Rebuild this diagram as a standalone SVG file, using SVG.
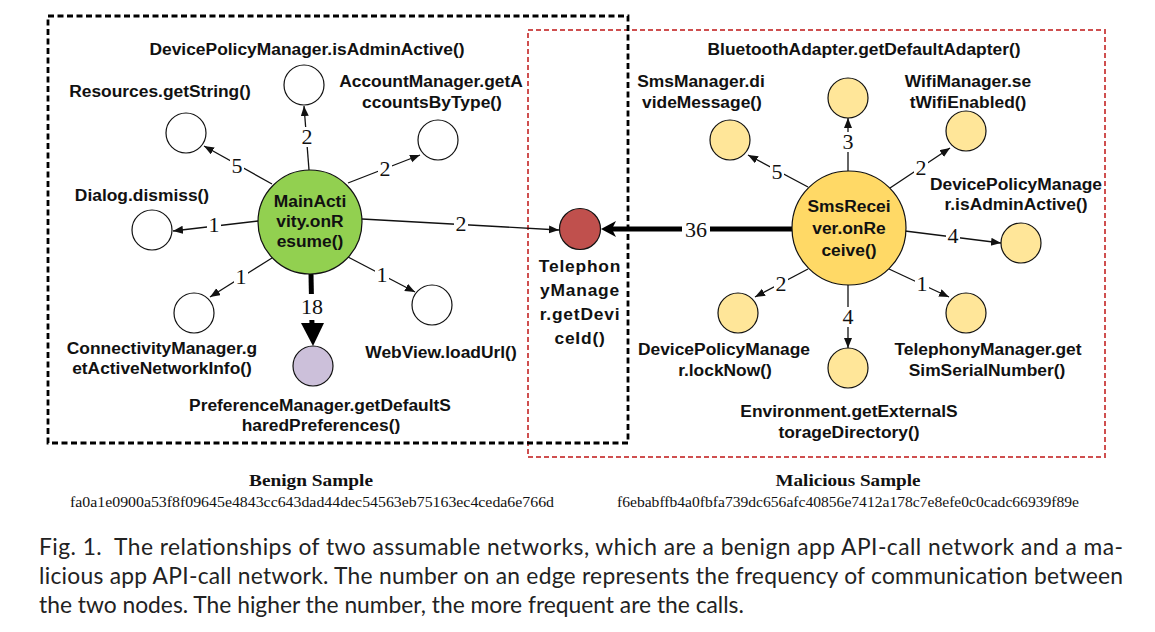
<svg xmlns="http://www.w3.org/2000/svg" width="1155" height="632" viewBox="0 0 1155 632">
<style>
.lbl{font-family:"Liberation Sans",Arial,sans-serif;font-weight:bold;font-size:17.4px;fill:#111;text-anchor:middle}
.num{font-family:"Liberation Serif","Times New Roman",serif;font-size:22px;fill:#111;text-anchor:middle}
.nb{fill:#fff}
.ea{stroke:#111;stroke-width:1.3;fill:none;marker-end:url(#ah)}
.thick{stroke:#000;stroke-width:5;fill:none}
.n{stroke:#111;stroke-width:1.2}
.w{fill:#fff}
.ly{fill:#ffe699}
.cap{font-family:"Lato","Noto Sans",sans-serif;font-size:22.8px;fill:#222}
.samp{font-family:"Liberation Serif","Times New Roman",serif;font-weight:bold;font-size:17px;fill:#111;text-anchor:middle}
.hash{font-family:"Liberation Serif","Times New Roman",serif;font-size:14px;fill:#111;text-anchor:middle}
</style>
<defs>
<marker id="ah" markerUnits="userSpaceOnUse" markerWidth="11" markerHeight="9" refX="10" refY="4" orient="auto">
<path d="M0,0 L10,4 L0,8 z" fill="#111"/>
</marker>
</defs>
<rect width="1155" height="632" fill="#fff"/>

<!-- sample boxes -->
<rect x="528" y="30" width="577" height="427" fill="none" stroke="#cf4f4f" stroke-width="2" stroke-dasharray="5,3"/>
<rect x="48" y="16" width="580" height="427" fill="none" stroke="#000" stroke-width="2.8" stroke-dasharray="6,3.5"/>

<g id="connectors">
<line class="ea" x1="309" y1="170" x2="304" y2="106"/>
<line class="ea" x1="272" y1="184" x2="204" y2="146"/>
<line class="ea" x1="348" y1="183" x2="420" y2="155"/>
<line class="ea" x1="258" y1="221" x2="173" y2="231"/>
<line class="ea" x1="362" y1="219" x2="559" y2="230"/>
<line class="ea" x1="272" y1="258" x2="210" y2="297"/>
<line class="ea" x1="348" y1="257" x2="415" y2="292"/>
<line class="thick" x1="311" y1="274" x2="312" y2="326"/>
<path d="M301,323 L324,323 L313,346 z" fill="#000"/>

<line class="ea" x1="848" y1="171" x2="848" y2="118"/>
<line class="ea" x1="808" y1="187" x2="748" y2="155"/>
<line class="ea" x1="890" y1="188" x2="950" y2="148"/>
<line class="ea" x1="905" y1="231" x2="1001" y2="243"/>
<line class="ea" x1="808" y1="269" x2="755" y2="297"/>
<line class="ea" x1="848" y1="285" x2="848" y2="348"/>
<line class="ea" x1="889" y1="269" x2="949" y2="297"/>
<line class="thick" x1="792" y1="229" x2="612" y2="229"/>
<path d="M601,229 L616,221 L612,229 L616,237 z" fill="#000"/>

<!-- edge labels -->
<rect class="nb" x="300" y="127" width="14" height="20"/><text class="num" x="307" y="144">2</text>
<rect class="nb" x="230" y="156" width="14" height="20"/><text class="num" x="237" y="173">5</text>
<rect class="nb" x="378" y="159" width="14" height="20"/><text class="num" x="385" y="176">2</text>
<rect class="nb" x="207" y="215" width="14" height="20"/><text class="num" x="214" y="232">1</text>
<rect class="nb" x="454" y="214" width="14" height="20"/><text class="num" x="461" y="231">2</text>
<rect class="nb" x="234" y="267" width="14" height="20"/><text class="num" x="241" y="284">1</text>
<rect class="nb" x="375" y="265" width="14" height="20"/><text class="num" x="382" y="282">1</text>
<rect class="nb" x="298" y="294" width="28" height="26"/><text class="num" x="312" y="314">18</text>

<rect class="nb" x="841" y="132" width="14" height="20"/><text class="num" x="848" y="149">3</text>
<rect class="nb" x="770" y="162" width="14" height="20"/><text class="num" x="777" y="179">5</text>
<rect class="nb" x="914" y="158" width="14" height="20"/><text class="num" x="921" y="175">2</text>
<rect class="nb" x="946" y="226" width="14" height="20"/><text class="num" x="953" y="243">4</text>
<rect class="nb" x="774" y="274" width="14" height="20"/><text class="num" x="781" y="291">2</text>
<rect class="nb" x="841" y="307" width="14" height="20"/><text class="num" x="848" y="324">4</text>
<rect class="nb" x="915" y="274" width="14" height="20"/><text class="num" x="922" y="291">1</text>
<rect class="nb" x="682" y="216" width="28" height="26"/><text class="num" x="696" y="237">36</text>
</g>

<!-- benign nodes -->
<g id="mainactivity">
<circle class="n" cx="310" cy="222" r="52" fill="#92d050"/>
<text class="lbl" x="310" y="207">MainActi</text>
<text class="lbl" x="310" y="227">vity.onR</text>
<text class="lbl" x="310" y="247">esume()</text>
</g>
<g id="b-devicepolicy">
<circle class="n w" cx="304" cy="85" r="20"/>
<text class="lbl" x="307" y="55">DevicePolicyManager.isAdminActive()</text>
</g>
<g id="b-resources">
<circle class="n w" cx="186" cy="133" r="20"/>
<text class="lbl" x="160" y="97">Resources.getString()</text>
</g>
<g id="b-account">
<circle class="n w" cx="438" cy="140" r="20"/>
<text class="lbl" x="431" y="87">AccountManager.getA</text>
<text class="lbl" x="432" y="108">ccountsByType()</text>
</g>
<g id="b-dialog">
<circle class="n w" cx="152" cy="230" r="20"/>
<text class="lbl" x="142" y="201">Dialog.dismiss()</text>
</g>
<g id="b-connectivity">
<circle class="n w" cx="194" cy="313" r="20"/>
<text class="lbl" x="162" y="354">ConnectivityManager.g</text>
<text class="lbl" x="162" y="374">etActiveNetworkInfo()</text>
</g>
<g id="b-webview">
<circle class="n w" cx="432" cy="305" r="20"/>
<text class="lbl" x="441" y="358">WebView.loadUrl()</text>
</g>
<g id="b-preference">
<circle class="n" cx="313" cy="366" r="20" fill="#ccc0da"/>
<text class="lbl" x="320" y="411">PreferenceManager.getDefaultS</text>
<text class="lbl" x="321" y="431">haredPreferences()</text>
</g>

<!-- shared node -->
<g id="telephony-deviceid">
<circle class="n" cx="580" cy="229" r="20.5" fill="#c0504d"/>
<text class="lbl" x="580" y="272" letter-spacing="0.8">Telephon</text>
<text class="lbl" x="580" y="296" letter-spacing="0.8">yManage</text>
<text class="lbl" x="580" y="320" letter-spacing="0.8">r.getDevi</text>
<text class="lbl" x="580" y="344" letter-spacing="0.8">ceId()</text>
</g>

<!-- malicious nodes -->
<g id="smsreceiver">
<circle class="n" cx="849" cy="228" r="57" fill="#ffd966"/>
<text class="lbl" x="849" y="212">SmsRecei</text>
<text class="lbl" x="849" y="234">ver.onRe</text>
<text class="lbl" x="849" y="256">ceive()</text>
</g>
<g id="m-bluetooth">
<circle class="n ly" cx="848" cy="98" r="20"/>
<text class="lbl" x="864" y="55">BluetoothAdapter.getDefaultAdapter()</text>
</g>
<g id="m-smsmanager">
<circle class="n ly" cx="730" cy="140" r="20"/>
<text class="lbl" x="701" y="87">SmsManager.di</text>
<text class="lbl" x="702" y="108">videMessage()</text>
</g>
<g id="m-wifi">
<circle class="n ly" cx="966" cy="131" r="20"/>
<text class="lbl" x="968" y="87">WifiManager.se</text>
<text class="lbl" x="968" y="108">tWifiEnabled()</text>
</g>
<g id="m-devicepolicy-admin">
<circle class="n ly" cx="1021" cy="243" r="20"/>
<text class="lbl" x="1016" y="190">DevicePolicyManage</text>
<text class="lbl" x="1016" y="210">r.isAdminActive()</text>
</g>
<g id="m-locknow">
<circle class="n ly" cx="738" cy="313" r="20"/>
<text class="lbl" x="724" y="355">DevicePolicyManage</text>
<text class="lbl" x="725" y="376">r.lockNow()</text>
</g>
<g id="m-environment">
<circle class="n ly" cx="848" cy="368" r="20"/>
<text class="lbl" x="849" y="417">Environment.getExternalS</text>
<text class="lbl" x="849" y="438">torageDirectory()</text>
</g>
<g id="m-simserial">
<circle class="n ly" cx="966" cy="313" r="20"/>
<text class="lbl" x="988" y="355">TelephonyManager.get</text>
<text class="lbl" x="987" y="376">SimSerialNumber()</text>
</g>

<!-- sample captions -->
<text class="samp" x="311" y="486" textLength="124" lengthAdjust="spacingAndGlyphs">Benign Sample</text>
<text class="hash" x="312" y="507" textLength="484" lengthAdjust="spacingAndGlyphs">fa0a1e0900a53f8f09645e4843cc643dad44dec54563eb75163ec4ceda6e766d</text>
<text class="samp" x="848" y="486" textLength="145" lengthAdjust="spacingAndGlyphs">Malicious Sample</text>
<text class="hash" x="848" y="507" textLength="462" lengthAdjust="spacingAndGlyphs">f6ebabffb4a0fbfa739dc656afc40856e7412a178c7e8efe0c0cadc66939f89e</text>

<!-- figure caption -->
<text class="cap" x="39" y="555" textLength="1084" lengthAdjust="spacing">Fig. 1.&#160; The relationships of two assumable networks, which are a benign app API-call network and a ma-</text>
<text class="cap" x="39" y="584" textLength="1084" lengthAdjust="spacing">licious app API-call network. The number on an edge represents the frequency of communication between</text>
<text class="cap" x="39" y="613">the two nodes. The higher the number, the more frequent are the calls.</text>
</svg>
